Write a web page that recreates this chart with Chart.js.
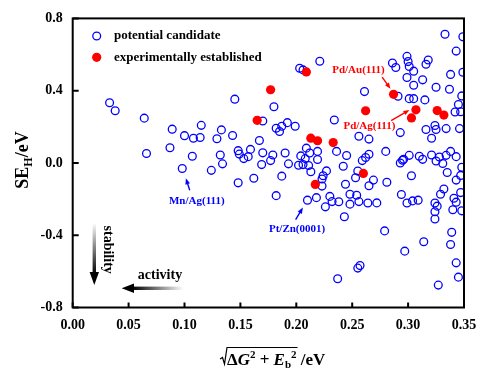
<!DOCTYPE html>
<html>
<head>
<meta charset="utf-8">
<script src="https://cdn.jsdelivr.net/npm/chart.js@4.4.1/dist/chart.umd.min.js"></script>
<style>
  html, body { margin: 0; padding: 0; background: #fff; }
</style>
</head>
<body>
<canvas id="scatter-chart" width="492" height="376"></canvas>
<script>
// potential candidates (blue open circles)
const candidateX = [
  0.033, 0.038, 0.064, 0.089, 0.115, 0.100, 0.108, 0.114, 0.087, 0.066, 0.107, 0.098, 0.124, 0.129, 0.133, 0.143,
  0.145, 0.180, 0.170, 0.167, 0.182, 0.187, 0.192, 0.199, 0.185, 0.203, 0.206, 0.221, 0.234, 0.209, 0.219, 0.236,
  0.245, 0.132, 0.148, 0.149, 0.159, 0.157, 0.170, 0.179, 0.190, 0.204, 0.212, 0.134, 0.153, 0.177, 0.169, 0.193,
  0.219, 0.208, 0.202, 0.206, 0.211, 0.213, 0.242, 0.227, 0.224, 0.223, 0.187, 0.162, 0.148, 0.223, 0.244, 0.248,
  0.182, 0.210, 0.218, 0.230, 0.232, 0.238, 0.226, 0.243, 0.237, 0.256, 0.255, 0.253, 0.254, 0.248, 0.256,
  0.333, 0.349, 0.343, 0.286, 0.289, 0.299, 0.300, 0.301, 0.318, 0.316, 0.305, 0.299, 0.313, 0.338, 0.349, 0.305,
  0.325, 0.337, 0.261, 0.291, 0.301, 0.305, 0.315, 0.348, 0.345, 0.342, 0.347, 0.293, 0.316, 0.324, 0.325, 0.334,
  0.346, 0.265, 0.321, 0.280, 0.265, 0.262, 0.296, 0.301, 0.310, 0.321, 0.328, 0.334, 0.338, 0.343, 0.259, 0.293,
  0.295, 0.313, 0.325, 0.331, 0.335, 0.348, 0.269, 0.265, 0.281, 0.303, 0.343, 0.347, 0.332, 0.329, 0.347, 0.294,
  0.264, 0.272, 0.299, 0.304, 0.309, 0.324, 0.326, 0.324, 0.324, 0.341, 0.343, 0.340, 0.348, 0.279, 0.339, 0.314,
  0.297, 0.338, 0.343, 0.257, 0.255, 0.345, 0.327
];
const candidateY = [
  0.333, 0.289, 0.248, 0.187, 0.208, 0.151, 0.137, 0.141, 0.084, 0.052, 0.037, -0.031, -0.041, 0.134, 0.183, 0.152,
  0.353, 0.311, 0.232, 0.124, 0.192, 0.203, 0.223, 0.203, 0.174, 0.524, 0.515, 0.563, 0.238, 0.082, 0.064, 0.064,
  0.041, 0.044, 0.068, 0.049, 0.075, 0.035, 0.056, 0.044, 0.055, 0.039, 0.055, -0.005, 0.024, 0.013, -0.009, -0.005,
  0.019, 0.024, -0.013, -0.009, -0.014, -0.049, -0.018, -0.044, -0.071, -0.089, -0.073, -0.085, -0.110, -0.128, -0.118, -0.173,
  -0.181, -0.206, -0.192, -0.185, -0.214, -0.215, -0.243, -0.298, -0.641, 0.148, -0.045, -0.082, -0.179, -0.228, -0.214,
  0.712, 0.698, 0.619, 0.553, 0.528, 0.590, 0.561, 0.534, 0.570, 0.546, 0.508, 0.473, 0.460, 0.490, 0.502, 0.430,
  0.419, 0.408, 0.395, 0.369, 0.356, 0.356, 0.349, 0.371, 0.323, 0.282, 0.283, 0.168, 0.185, 0.207, 0.185, 0.190,
  0.190, 0.132, 0.137, 0.064, 0.048, 0.030, 0.020, 0.042, 0.037, 0.044, 0.033, 0.042, 0.064, 0.035, 0.013, 0.000,
  0.015, 0.020, 0.011, -0.003, -0.053, -0.024, -0.095, -0.126, -0.107, -0.071, -0.095, -0.069, -0.144, -0.173, -0.164, -0.175,
  -0.222, -0.221, -0.222, -0.210, -0.206, -0.222, -0.239, -0.270, -0.310, -0.195, -0.217, -0.259, -0.265, -0.376, -0.384, -0.436,
  -0.488, -0.451, -0.553, -0.568, -0.582, -0.632, -0.676
];
// experimentally established (red filled circles)
const establishedX = [0.209, 0.177, 0.165, 0.213, 0.219, 0.233, 0.217, 0.287, 0.262, 0.307, 0.303, 0.326, 0.332, 0.260];
const establishedY = [0.504, 0.405, 0.236, 0.137, 0.123, 0.113, -0.119, 0.380, 0.289, 0.294, 0.249, 0.290, 0.265, -0.058];

const seriesNames = ['potential candidate', 'experimentally established'];
const xTicks = [0, 0.05, 0.10, 0.15, 0.20, 0.25, 0.30, 0.35];
const yTicks = [-0.8, -0.4, 0.0, 0.4, 0.8];

// labelled systems: text centre, arrow tail, arrow head (data units)
const noteLabels = ['Pd/Au(111)', 'Pd/Ag(111)', 'Mn/Ag(111)', 'Pt/Zn(0001)'];
const noteColors = ['#ff0000', '#ff0000', '#0000ff', '#0000ff'];
const noteText = [[0.2556, 0.513], [0.2654, 0.201], [0.111, -0.210], [0.2007, -0.365]];
const noteTail = [[0.2768, 0.475], [0.2848, 0.234], [0.1047, -0.151], [0.1994, -0.314]];
const noteHead = [[0.2842, 0.410], [0.3012, 0.293], [0.1012, -0.085], [0.2059, -0.247]];

const FONT = "'Liberation Serif', 'Times New Roman', serif";
const BLUE = '#0000ff';
const RED = '#ff0000';

function toPoints(xs, ys) {
  return xs.map((x, i) => ({ x: x, y: ys[i] }));
}

// draws a run of [text, size, italic, dy] pieces, returns end x
function richText(ctx, parts, x, y, dryRun) {
  let cx = x;
  parts.forEach(p => {
    ctx.font = (p[2] ? 'italic ' : '') + 'bold ' + p[1] + 'px ' + FONT;
    if (!dryRun) ctx.fillText(p[0], cx, y + (p[3] || 0));
    cx += ctx.measureText(p[0]).width;
  });
  return cx;
}

function arrow(ctx, x1, y1, x2, y2, color, head, width) {
  const a = Math.atan2(y2 - y1, x2 - x1);
  const c = Math.cos(a), s = Math.sin(a);
  ctx.strokeStyle = color;
  ctx.fillStyle = color;
  ctx.lineWidth = width;
  ctx.beginPath();
  ctx.moveTo(x1, y1);
  ctx.lineTo(x2 - head * 0.8 * c, y2 - head * 0.8 * s);
  ctx.stroke();
  ctx.beginPath();
  ctx.moveTo(x2, y2);
  ctx.lineTo(x2 - head * c + head * 0.4 * s, y2 - head * s - head * 0.4 * c);
  ctx.lineTo(x2 - head * c - head * 0.4 * s, y2 - head * s + head * 0.4 * c);
  ctx.closePath();
  ctx.fill();
}

const decorations = {
  id: 'decorations',
  afterDraw(chart) {
    const ctx = chart.ctx;
    const area = chart.chartArea;
    const xs = chart.scales.x, ys = chart.scales.y;
    ctx.save();

    // frame + inward ticks
    ctx.strokeStyle = '#000';
    ctx.lineWidth = 2;
    ctx.strokeRect(area.left, area.top, area.right - area.left, area.bottom - area.top);
    ctx.beginPath();
    xTicks.forEach(v => {
      const px = xs.getPixelForValue(v);
      ctx.moveTo(px, area.bottom);
      ctx.lineTo(px, area.bottom - 5);
    });
    yTicks.forEach(v => {
      const py = ys.getPixelForValue(v);
      ctx.moveTo(area.left, py);
      ctx.lineTo(area.left + 6, py);
    });
    ctx.stroke();

    // legend
    ctx.fillStyle = '#000';
    ctx.textBaseline = 'middle';
    ctx.textAlign = 'left';
    ctx.font = 'bold 13px ' + FONT;
    ctx.beginPath();
    ctx.arc(96.7, 36, 3.9, 0, Math.PI * 2);
    ctx.strokeStyle = BLUE;
    ctx.lineWidth = 1.3;
    ctx.stroke();
    ctx.beginPath();
    ctx.arc(96.7, 57.3, 4.6, 0, Math.PI * 2);
    ctx.fillStyle = RED;
    ctx.fill();
    ctx.fillStyle = '#000';
    ctx.fillText(seriesNames[0], 114, 36);
    ctx.fillText(seriesNames[1], 114, 57.3);

    // annotations
    ctx.textAlign = 'center';
    ctx.font = 'bold 11px ' + FONT;
    noteLabels.forEach((t, i) => {
      ctx.fillStyle = noteColors[i];
      ctx.fillText(t, xs.getPixelForValue(noteText[i][0]), ys.getPixelForValue(noteText[i][1]));
      arrow(ctx,
        xs.getPixelForValue(noteTail[i][0]), ys.getPixelForValue(noteTail[i][1]),
        xs.getPixelForValue(noteHead[i][0]), ys.getPixelForValue(noteHead[i][1]),
        noteColors[i], 6, 1.4);
    });

    // stability arrow (vertical, fading in)
    let g = ctx.createLinearGradient(0, 223, 0, 274);
    g.addColorStop(0, '#ffffff');
    g.addColorStop(1, '#000000');
    ctx.fillStyle = g;
    ctx.fillRect(92.6, 223, 3.4, 50);
    ctx.fillStyle = '#000';
    ctx.beginPath();
    ctx.moveTo(89.6, 272);
    ctx.lineTo(99, 272);
    ctx.lineTo(94.3, 285);
    ctx.closePath();
    ctx.fill();

    // activity arrow (horizontal, fading in)
    g = ctx.createLinearGradient(183.3, 0, 133, 0);
    g.addColorStop(0, '#ffffff');
    g.addColorStop(1, '#000000');
    ctx.fillStyle = g;
    ctx.fillRect(133, 286.6, 50.3, 3.4);
    ctx.fillStyle = '#000';
    ctx.beginPath();
    ctx.moveTo(134, 283.6);
    ctx.lineTo(134, 293);
    ctx.lineTo(121.7, 288.3);
    ctx.closePath();
    ctx.fill();

    ctx.font = 'bold 14px ' + FONT;
    ctx.textAlign = 'center';
    ctx.fillText('activity', 160, 275);
    ctx.save();
    ctx.translate(107.5, 249.7);
    ctx.rotate(Math.PI / 2);
    ctx.fillText('stability', 0, 0);
    ctx.restore();

    // y axis title: SE_H/eV
    ctx.textAlign = 'left';
    ctx.textBaseline = 'alphabetic';
    const yParts = [['SE', 18], ['H', 12, false, 4], ['/eV', 18]];
    const yw = richText(ctx, yParts, 0, 0, true);
    ctx.save();
    ctx.translate(28, 160);
    ctx.rotate(-Math.PI / 2);
    richText(ctx, yParts, -yw / 2, 0);
    ctx.restore();

    // x axis title: sqrt(dG^2 + Eb^2) /eV
    const bx = 221, by = 365;
    ctx.strokeStyle = '#000';
    ctx.lineWidth = 1.2;
    const inner = [['\u0394', 17], ['G', 17, true], ['2', 11, false, -7], [' + ', 17], ['E', 17, true], ['b', 11, false, 3], ['2', 11, false, -7]];
    const startX = bx + 6;
    const endX = richText(ctx, inner, startX, by);
    ctx.beginPath();
    ctx.moveTo(bx - 1, by - 6);
    ctx.lineTo(bx + 1.5, by - 7.5);
    ctx.lineTo(bx + 3.5, by - 1);
    ctx.lineTo(bx + 6, by - 17.5);
    ctx.lineTo(endX + 1, by - 17.5);
    ctx.stroke();
    richText(ctx, [[' /eV', 17]], endX, by);

    ctx.restore();
  }
};

new Chart(document.getElementById('scatter-chart').getContext('2d'), {
  type: 'scatter',
  data: {
    datasets: [{
      label: seriesNames[1],
      data: toPoints(establishedX, establishedY),
      backgroundColor: RED,
      borderWidth: 0,
      pointRadius: 4.6,
      order: 0
    }, {
      label: seriesNames[0],
      data: toPoints(candidateX, candidateY),
      backgroundColor: 'rgba(0,0,0,0)',
      borderColor: BLUE,
      borderWidth: 1.3,
      pointRadius: 3.9,
      order: 1
    }]
  },
  options: {
    responsive: false,
    animation: false,
    layout: {
      padding: { top: 15.5, right: 28, left: 0, bottom: 0 }
    },
    scales: {
      x: {
        type: 'linear',
        min: 0,
        max: 0.35,
        afterBuildTicks: s => { s.ticks = xTicks.map(v => ({ value: v })); },
        afterFit: s => { s.height = 68.5; },
        grid: { display: false, drawTicks: false },
        border: { display: false },
        ticks: {
          color: '#000',
          padding: 9,
          maxRotation: 0,
          font: { family: FONT, size: 14, weight: 'bold' },
          callback: v => v.toFixed(2)
        }
      },
      y: {
        min: -0.8,
        max: 0.8,
        afterBuildTicks: s => { s.ticks = yTicks.map(v => ({ value: v })); },
        afterFit: s => { s.width = 72.7; },
        grid: { display: false, drawTicks: false },
        border: { display: false },
        ticks: {
          color: '#000',
          padding: 10,
          font: { family: FONT, size: 14, weight: 'bold' },
          callback: v => v.toFixed(1)
        }
      }
    },
    plugins: {
      legend: { display: false },
      tooltip: { enabled: false }
    }
  },
  plugins: [decorations]
});
</script>
</body>
</html>
